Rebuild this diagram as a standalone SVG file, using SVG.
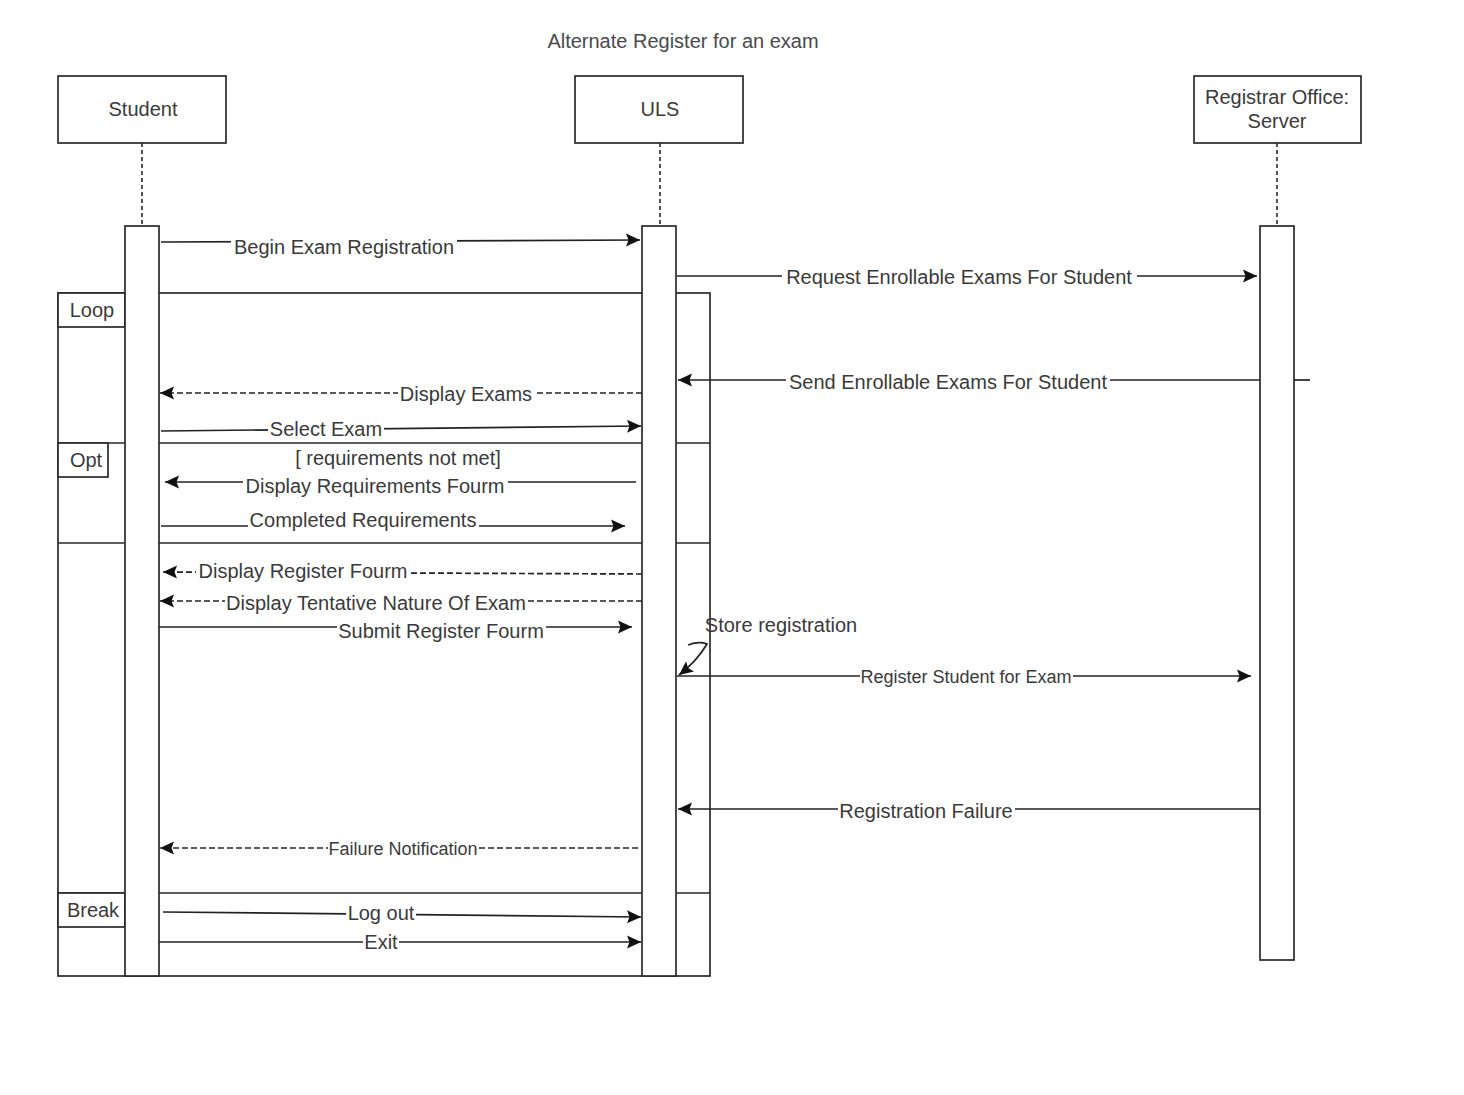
<svg xmlns="http://www.w3.org/2000/svg" width="1464" height="1095" viewBox="0 0 1464 1095">
  <style>
    text { font-family: "Liberation Sans", Arial, sans-serif; font-size: 20px; fill: #3a3a3a; text-anchor: middle; }
    .sm { font-size: 18px; }
    .bg { fill: #ffffff; stroke: none; }
    .box { fill: #ffffff; stroke: #2a2a2a; stroke-width: 1.7; }
    .frame { fill: none; stroke: #2a2a2a; stroke-width: 1.7; }
    .life { stroke: #2a2a2a; stroke-width: 1.6; stroke-dasharray: 4 3; fill: none; }
    .msg { fill: none; stroke: #222222; stroke-width: 1.7; marker-end: url(#arrow); }
    .ret { fill: none; stroke: #222222; stroke-width: 1.7; stroke-dasharray: 6 3; marker-end: url(#arrow); }
    .plain { fill: none; stroke: #222222; stroke-width: 1.7; }
  </style>
  <defs>
    <marker id="arrow" markerUnits="userSpaceOnUse" markerWidth="16" markerHeight="14" refX="14" refY="7" orient="auto">
      <path d="M0,0.5 L14,7 L0,13.5 L2.5,7 z" fill="#111111"/>
    </marker>
  </defs>

  <rect width="1464" height="1095" fill="#ffffff"/>

  <text x="683" y="48" style="fill:#4a4a4a">Alternate Register for an exam</text>

  <!-- combined fragments: loop with opt and break operands -->
  <g id="fragments">
    <rect class="frame" x="58" y="293" width="652" height="683"/>
    <line class="frame" x1="58" y1="443" x2="710" y2="443"/>
    <line class="frame" x1="58" y1="543" x2="710" y2="543"/>
    <line class="frame" x1="58" y1="893" x2="710" y2="893"/>
    <g id="frame-loop">
      <rect class="box" x="58" y="293" width="67" height="34"/>
      <text x="92" y="317">Loop</text>
    </g>
    <g id="frame-opt">
      <rect class="box" x="58" y="443" width="50" height="34"/>
      <text x="86" y="467">Opt</text>
    </g>
    <g id="frame-break">
      <rect class="box" x="58" y="893" width="67" height="34"/>
      <text x="93" y="917">Break</text>
    </g>
  </g>

  <!-- lifelines -->
  <g id="student">
    <rect class="box" x="58" y="76" width="168" height="67"/>
    <text x="143" y="116">Student</text>
    <line class="life" x1="142" y1="143" x2="142" y2="226"/>
    <rect class="box" x="125" y="226" width="34" height="750"/>
  </g>
  <g id="uls">
    <rect class="box" x="575" y="76" width="168" height="67"/>
    <text x="660" y="116">ULS</text>
    <line class="life" x1="660" y1="143" x2="660" y2="226"/>
    <rect class="box" x="642" y="226" width="34" height="750"/>
  </g>
  <g id="registrar">
    <rect class="box" x="1194" y="76" width="167" height="67"/>
    <text x="1277" y="104">Registrar Office:</text>
    <text x="1277" y="128">Server</text>
    <line class="life" x1="1277" y1="143" x2="1277" y2="226"/>
    <rect class="box" x="1260" y="226" width="34" height="734"/>
  </g>

  <!-- messages; each label sits on a white patch that breaks its line -->
  <g id="connectors">
    <path class="msg" d="M161,242 L640,240"/>
    <rect class="bg" x="231" y="235" width="226" height="22"/>
    <text x="344" y="254">Begin Exam Registration</text>

    <path class="msg" d="M677,276 L1257,276"/>
    <rect class="bg" x="782" y="266" width="355" height="22"/>
    <text x="959" y="284">Request Enrollable Exams For Student</text>

    <path class="plain" d="M1294,380 L1310,380"/>
    <path class="msg" d="M1260,380 L678,380"/>
    <rect class="bg" x="786" y="371" width="324" height="22"/>
    <text x="948" y="389">Send Enrollable Exams For Student</text>

    <path class="ret" d="M642,393 L160,393"/>
    <rect class="bg" x="398" y="383" width="137" height="22"/>
    <text x="466" y="401">Display Exams</text>

    <path class="msg" d="M161,431 L641,426"/>
    <rect class="bg" x="268" y="418" width="116" height="22"/>
    <text x="326" y="436">Select Exam</text>

    <text x="398" y="465">[ requirements not met]</text>

    <path class="msg" d="M636,482 L165,482"/>
    <rect class="bg" x="243" y="475" width="265" height="22"/>
    <text x="375" y="493">Display Requirements Fourm</text>

    <path class="msg" d="M161,526 L625,526"/>
    <rect class="bg" x="248" y="509" width="231" height="19"/>
    <text x="363" y="527">Completed Requirements</text>

    <path class="ret" d="M642,574 L163,572"/>
    <rect class="bg" x="196" y="561" width="215" height="22"/>
    <text x="303" y="578">Display Register Fourm</text>

    <path class="ret" d="M642,601 L160,601"/>
    <rect class="bg" x="225" y="592" width="303" height="22"/>
    <text x="376" y="610">Display Tentative Nature Of Exam</text>

    <path class="msg" d="M159,627 L632,627"/>
    <rect class="bg" x="337" y="620" width="209" height="22"/>
    <text x="441" y="638">Submit Register Fourm</text>

    <text x="781" y="632">Store registration</text>
    <path class="msg" d="M688,645 Q699,641 707,644 Q697,661 679,675"/>

    <path class="msg" d="M677,676 L1251,676"/>
    <rect class="bg" x="860" y="667" width="213" height="20"/>
    <text class="sm" x="966" y="683">Register Student for Exam</text>

    <path class="msg" d="M1260,809 L678,809"/>
    <rect class="bg" x="838" y="800" width="177" height="22"/>
    <text x="926" y="818">Registration Failure</text>

    <path class="ret" d="M638,848 L160,848"/>
    <rect class="bg" x="328" y="839" width="149" height="20"/>
    <text class="sm" x="403" y="855">Failure Notification</text>

    <path class="msg" d="M163,912 L641,917"/>
    <rect class="bg" x="346" y="903" width="70" height="22"/>
    <text x="381" y="920">Log out</text>

    <path class="msg" d="M159,942 L641,942"/>
    <rect class="bg" x="363" y="932" width="36" height="22"/>
    <text x="381" y="949">Exit</text>
  </g>
</svg>
